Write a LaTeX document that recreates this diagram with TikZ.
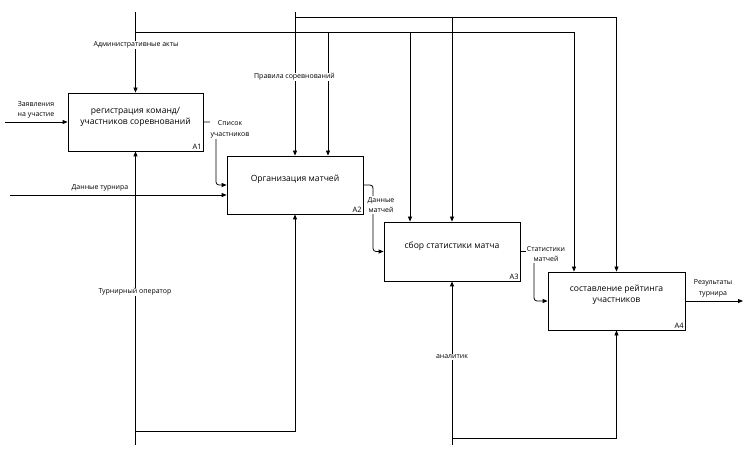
\documentclass[tikz,border=0pt]{standalone}
\usepackage{fontspec}
\setmainfont{Open Sans}
\usetikzlibrary{arrows.meta}
\tikzset{
  fbox/.style={draw, line width=0.8bp, minimum width=135bp, minimum height=58bp, inner sep=0pt},
  btext/.style={font=\fontsize{8.6}{11}\selectfont, align=center, inner sep=0pt},
  tag/.style={font=\fontsize{7.5}{8}\selectfont, anchor=south east, inner sep=1.5bp},
  lbl/.style={font=\fontsize{7}{10.5}\selectfont, align=center, fill=white, inner xsep=1bp, inner ysep=0.8bp},
  wire/.style={line width=0.8bp},
  arr/.style={wire, -{Triangle[length=5bp,width=4bp]}},
  carr/.style={arr, rounded corners=3bp}
}
\begin{document}
\begin{tikzpicture}[x=1bp,y=-1bp]
\useasboundingbox (0,0) rectangle (752,459);
% boxes
\node[fbox] (A1) at (135.5,122) {};
\node[fbox, minimum width=136bp] (A2) at (295,185) {};
\node[fbox, minimum width=136bp, minimum height=59bp] (A3) at (452,251.5) {};
\node[fbox, minimum width=137bp] (A4) at (616.5,301) {};
\node[btext] (A1t) at (135.5,117) {регистрация команд/\\участников соревнований};
\node[btext] (A2t) at (295,179) {Организация матчей};
\node[btext] (A3t) at (452,246) {сбор статистики матча};
\node[btext] (A4t) at (616.5,295) {составление рейтинга\\участников};
\node[tag] (A1n) at (A1.south east) {A1};
\node[tag] (A2n) at (A2.south east) {A2};
\node[tag] (A3n) at (A3.south east) {A3};
\node[tag] (A4n) at (A4.south east) {A4};
% coordinates
\coordinate (cA) at (135.5,12);
\coordinate (jA) at (135.5,32);
\coordinate (t328) at (328,32);
\coordinate (t410) at (410,32);
\coordinate (t574) at (574,32);
\coordinate (cB) at (295,12);
\coordinate (jB) at (295,17);
\coordinate (u452) at (452,17);
\coordinate (u617) at (616.5,17);
\coordinate (in1) at (5,122);
\coordinate (in2) at (10,195);
\coordinate (k1) at (216,160);
\coordinate (k2) at (373,220);
\coordinate (k3) at (534,280);
\coordinate (out) at (743,301);
\coordinate (m1) at (135.5,445);
\coordinate (m1j) at (135.5,431);
\coordinate (m1e) at (295,431);
\coordinate (m2) at (452,445);
\coordinate (m2j) at (452,438);
\coordinate (m2e) at (616.5,438);
% controls
\draw[arr] (cA) -- (A1.north);
\draw[wire] (jA) -- (t574);
\draw[arr] (t328) -- (t328 |- A2.north);
\draw[arr] (t410) -- (t410 |- A3.north);
\draw[arr] (t574) -- (t574 |- A4.north);
\draw[arr] (cB) -- (A2.north);
\draw[wire] (jB) -- (u617);
\draw[arr] (u452) -- (A3.north);
\draw[arr] (u617) -- (A4.north);
% inputs
\draw[arr] (in1) -- (A1.west);
\draw[arr] (in2) -- (in2 -| A2.west);
% outputs
\draw[carr] (A1.east) -| (k1) |- (A2.west);
\draw[carr] (A2.east) -| (k2) |- (A3.west);
\draw[carr] (A3.east) -| (k3) |- (A4.west);
\draw[arr] (A4.east) -- (out);
% mechanisms
\draw[arr] (m1) -- (A1.south);
\draw[arr] (m1j) -- (m1e) -- (A2.south);
\draw[arr] (m2) -- (A3.south);
\draw[arr] (m2j) -- (m2e) -- (A4.south);
% labels
\node[lbl] (L1) at (136,45) {Административные акты};
\node[lbl] (L2) at (294.5,77) {Правила соревнований};
\node[lbl] (L3) at (36,110) {Заявления\\на участие};
\node[lbl] (L4) at (100,188) {Данные турнира};
\node[lbl] (L5) at (230,129.5) {Список\\участников};
\node[lbl] (L6) at (381,205) {Данные\\матчей};
\node[lbl] (L7) at (546,254) {Статистики\\матчей};
\node[lbl] (L8) at (713,288.5) {Результаты\\турнира};
\node[lbl] (L9) at (135,292) {Турнирный оператор};
\node[lbl] (L10) at (452,357) {аналитик};
\end{tikzpicture}
\end{document}
